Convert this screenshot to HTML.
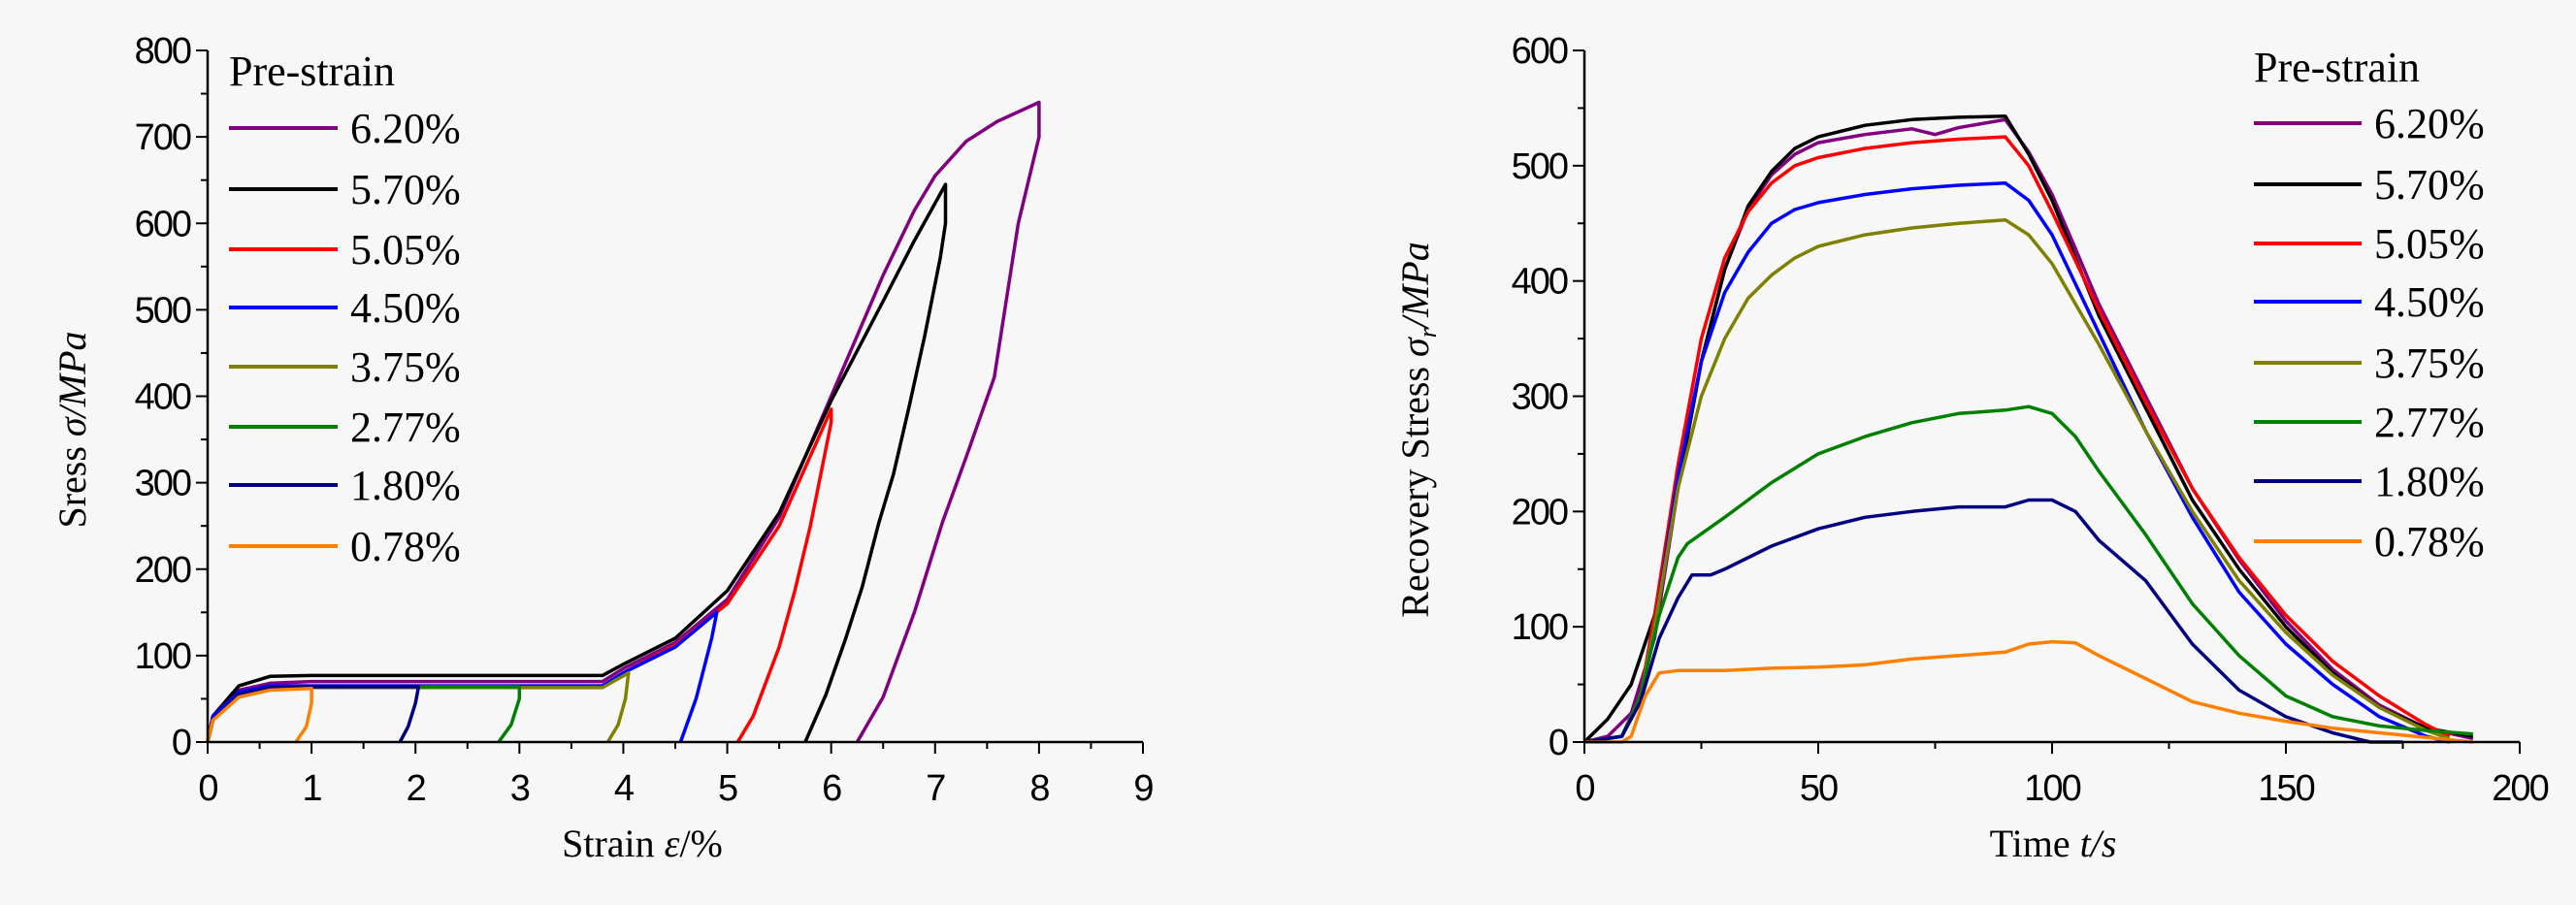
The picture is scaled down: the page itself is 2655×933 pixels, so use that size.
<!DOCTYPE html>
<html><head><meta charset="utf-8"><style>
html,body{margin:0;padding:0;background:#f7f7f7;}
svg{display:block;}
.tk{font-family:"Liberation Sans",sans-serif;font-size:38px;fill:#000;letter-spacing:-2px;}
.tt{font-family:"Liberation Serif",serif;font-size:40px;fill:#000;}
.lg{font-family:"Liberation Serif",serif;font-size:44px;fill:#000;}
</style></head><body>
<svg id="chart" width="2655" height="933" xmlns="http://www.w3.org/2000/svg">
<rect width="2655" height="933" fill="#f7f7f7"/>
<g id="left"></g>
<g id="right"></g>
</svg>
<script>
const labels=["6.20%","5.70%","5.05%","4.50%","3.75%","2.77%","1.80%","0.78%"];
const colors=["#800080","#000000","#ff0000","#0000ff","#808000","#008000","#000080","#ff8000"];
// Left chart: strain (%) and stress (MPa)
const strain620=[0,0.05,0.3,0.6,1,2,3,3.8,4,4.5,5,5.5,6,6.5,6.8,7,7.3,7.6,8,8,7.8,7.57,7.3,7.07,6.8,6.5,6.25];
const stress620=[0,30,60,68,70,70,70,70,85,115,165,260,400,540,615,655,695,718,740,700,600,422,330,254,150,52,0];
const strain570=[0,0.05,0.3,0.6,1,2,3,3.8,4,4.5,5,5.5,6,6.5,6.8,7.1,7.1,7.05,6.9,6.75,6.6,6.46,6.3,6.14,5.95,5.75];
const stress570=[0,30,65,76,77,77,77,77,90,120,175,265,395,510,580,645,600,560,470,388,310,254,180,120,55,0];
const strain505=[0,0.05,0.3,0.6,1,2,3,3.8,4,4.5,5,5.5,6,6,5.9,5.8,5.65,5.5,5.25,5.1];
const stress505=[0,30,58,65,65,65,65,65,80,112,160,250,385,370,310,250,175,110,30,0];
const strain450=[0,0.05,0.3,0.6,1,2,3,3.8,4,4.5,4.9,4.85,4.7,4.55];
const stress450=[0,30,58,65,65,65,65,65,80,110,150,120,50,0];
const strain375=[0,0.05,0.3,0.6,1,2,3,3.8,4.05,4.02,3.95,3.85];
const stress375=[0,25,55,62,63,63,63,63,80,50,20,0];
const strain277=[0,0.05,0.3,0.6,1,2,3,3.0,2.92,2.8];
const stress277=[0,25,55,63,64,64,64,50,20,0];
const strain180=[0,0.05,0.3,0.6,1,2,2.03,2.0,1.93,1.85];
const stress180=[0,25,55,63,64,64,64,45,18,0];
const strain078=[0,0.05,0.3,0.6,1,1.0,0.95,0.85];
const stress078=[0,25,52,60,62,45,18,0];
const leftX=[strain620,strain570,strain505,strain450,strain375,strain277,strain180,strain078];
const leftY=[stress620,stress570,stress505,stress450,stress375,stress277,stress180,stress078];
const leftXTicks=[0,1,2,3,4,5,6,7,8,9];
const leftYTicks=[0,100,200,300,400,500,600,700,800];
// Right chart: time (s) and recovery stress (MPa)
const t620=[0,5,10,15,20,25,30,35,40,45,50,60,70,75,80,90,95,100,105,110,120,130,140,150,160,170,180,190];
const s620=[0,5,25,90,220,330,410,462,492,510,520,527,532,527,533,540,512,475,428,380,300,220,158,105,63,32,12,3];
const t570=[0,5,10,15,20,25,30,35,40,45,50,60,70,80,90,95,100,105,110,120,130,140,150,160,170,180,190];
const s570=[0,20,50,110,220,330,410,465,495,515,525,535,540,542,543,510,470,420,370,290,210,150,100,60,30,12,5];
const t505=[0,8,12,15,20,25,30,35,40,45,50,60,70,80,90,95,100,110,120,130,140,150,160,170,180,185];
const s505=[0,5,40,110,240,350,420,460,485,500,507,515,520,523,525,500,460,375,295,220,160,110,70,40,15,5];
const t450=[0,8,12,15,20,25,30,35,40,45,50,60,70,80,90,95,100,110,120,130,140,150,160,170,180,185];
const s450=[0,5,40,100,230,330,390,425,450,462,468,475,480,483,485,470,440,355,270,195,130,85,50,22,5,0];
const t375=[0,8,12,15,20,25,30,35,40,45,50,60,70,80,90,95,100,110,120,130,140,150,160,170,180,185];
const s375=[0,5,40,100,220,300,350,385,405,420,430,440,446,450,453,440,415,345,270,200,140,95,58,30,10,3];
const t277=[0,8,12,16,20,22,30,40,50,60,70,80,90,95,100,105,110,120,130,140,150,160,170,180,190];
const s277=[0,5,40,110,160,172,195,225,250,265,277,285,288,291,285,265,235,180,120,75,40,22,14,10,7];
const t180=[0,8,12,16,20,23,27,30,40,50,60,70,80,90,95,100,105,110,120,130,140,150,160,168,175];
const s180=[0,5,35,90,125,145,145,150,170,185,195,200,204,204,210,210,200,175,140,85,45,22,8,0,0];
const t078=[0,8,10,13,16,20,30,40,50,60,70,80,90,95,100,105,110,120,130,140,150,160,170,180,190];
const s078=[0,0,5,40,60,62,62,64,65,67,72,75,78,85,87,86,75,55,35,25,18,12,8,4,0];
const rightX=[t620,t570,t505,t450,t375,t277,t180,t078];
const rightY=[s620,s570,s505,s450,s375,s277,s180,s078];
const rightXTicks=[0,50,100,150,200];
const rightYTicks=[0,100,200,300,400,500,600];

const NS="http://www.w3.org/2000/svg";
function mk(parent,tag,attrs){const e=document.createElementNS(NS,tag);for(const k in attrs)e.setAttribute(k,attrs[k]);parent.appendChild(e);return e;}

function drawChart(g,cfg){
  const sx=v=>cfg.x0+(v-cfg.xmin)/(cfg.xmax-cfg.xmin)*(cfg.x1-cfg.x0);
  const sy=v=>cfg.y0-(v-cfg.ymin)/(cfg.ymax-cfg.ymin)*(cfg.y0-cfg.y1);
  cfg.xs.forEach((xs,i)=>{
    const d=xs.map((x,j)=>(j?'L':'M')+sx(x).toFixed(1)+','+sy(cfg.ys[i][j]).toFixed(1)).join(' ');
    const p=mk(g,'path',{d:d,fill:'none',stroke:colors[i],'stroke-width':3.5,'stroke-linejoin':'round'});
    
    
  });
  const ax=mk(g,'path',{d:`M${cfg.x0},${cfg.y1} L${cfg.x0},${cfg.y0} L${cfg.x1},${cfg.y0}`,fill:'none',stroke:'#000','stroke-width':2.5});
  
  
  cfg.xt.forEach((v,i)=>{
    const x=sx(v);
    mk(g,'line',{x1:x,y1:cfg.y0,x2:x,y2:cfg.y0+12,stroke:'#000','stroke-width':2});
    if(i<cfg.xt.length-1){const xm=sx(v+cfg.xminor);mk(g,'line',{x1:xm,y1:cfg.y0,x2:xm,y2:cfg.y0+7,stroke:'#000','stroke-width':2});}
    const t=mk(g,'text',{x:x,y:cfg.y0+60,'text-anchor':'middle',class:'tk'});t.textContent=v;
    
    
  });
  cfg.yt.forEach((v,i)=>{
    const y=sy(v);
    mk(g,'line',{x1:cfg.x0,y1:y,x2:cfg.x0-12,y2:y,stroke:'#000','stroke-width':2});
    if(i<cfg.yt.length-1){const ym=sy(v+cfg.yminor);mk(g,'line',{x1:cfg.x0,y1:ym,x2:cfg.x0-7,y2:ym,stroke:'#000','stroke-width':2});}
    const t=mk(g,'text',{x:cfg.x0-18,y:y+13,'text-anchor':'end',class:'tk'});t.textContent=v;
    
    
  });
  const xt=mk(g,'text',{x:cfg.xtx,y:883,'text-anchor':'middle',class:'tt'});xt.innerHTML=cfg.xtitle;
  
  
  const yt=mk(g,'text',{x:0,y:0,'text-anchor':'middle',class:'tt',transform:`translate(${cfg.ytx},443) rotate(-90)`});yt.innerHTML=cfg.ytitle;
  
  
  const lg=mk(g,'g',{});
  
  
  const h=mk(lg,'text',{x:cfg.lx,y:cfg.ly0,class:'lg'});h.textContent='Pre-strain';
  
  
  labels.forEach((l,i)=>{
    const y=cfg.ly[i];
    const e=mk(lg,'g',{});
    
    
    mk(e,'line',{x1:cfg.lx,y1:y,x2:cfg.lx+cfg.lw,y2:y,stroke:colors[i],'stroke-width':4});
    const t=mk(e,'text',{x:cfg.lx+cfg.lw+13,y:y+15,class:'lg'});t.textContent=l;
  });
}
drawChart(document.getElementById('left'),{x0:214,x1:1178,y0:765,y1:52,xmin:0,xmax:9,ymin:0,ymax:800,
  xs:leftX,ys:leftY,xt:leftXTicks,yt:leftYTicks,xminor:0.5,yminor:50,
  xtx:662,xtitle:'Strain  <tspan font-style="italic">ε</tspan>/%',ytx:88,ytitle:'Sress  <tspan font-style="italic">σ/MPa</tspan>',
  lx:236,lw:112,ly0:88,ly:[132,195,257,317,378,440,500,563]});
drawChart(document.getElementById('right'),{x0:1633,x1:2597,y0:765,y1:52,xmin:0,xmax:200,ymin:0,ymax:600,
  xs:rightX,ys:rightY,xt:rightXTicks,yt:rightYTicks,xminor:25,yminor:50,
  xtx:2116,xtitle:'Time  <tspan font-style="italic">t/s</tspan>',ytx:1472,ytitle:'Recovery Stress  <tspan font-style="italic">σ<tspan font-size="26" dy="8">r</tspan><tspan dy="-8">/MPa</tspan></tspan>',
  lx:2323,lw:111,ly0:84,ly:[127,190,251,311,374,435,496,558]});
</script>
</body></html>
